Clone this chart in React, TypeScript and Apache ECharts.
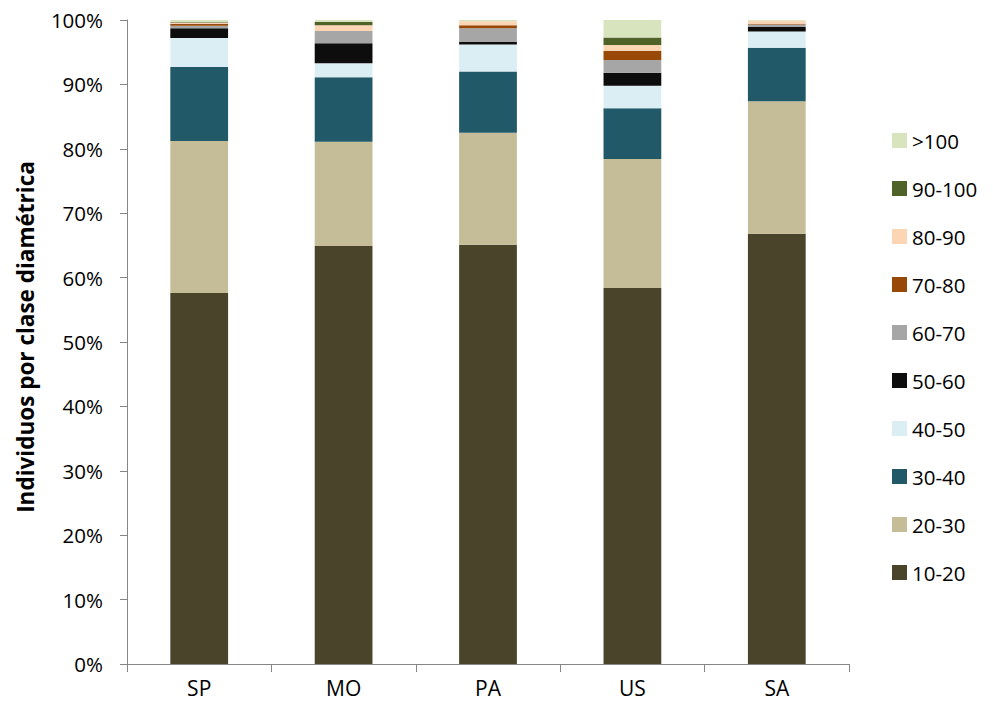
import React, { useEffect, useRef } from "react";
import * as echarts from "echarts";

const categories = ["SP", "MO", "PA", "US", "SA"];
const classes = ["10-20", "20-30", "30-40", "40-50", "50-60", "60-70", "70-80", "80-90", "90-100", ">100"];
const colors = ["#4a452a", "#c4bd97", "#215968", "#dbeef4", "#0d0d0d", "#a6a6a6", "#984807", "#fcd5b5", "#4f6228", "#d7e4bd"];
const yTitle = "Individuos por clase diamétrica";

// Share (%) of individuals in each diameter class, per site (SP, MO, PA, US, SA)
const c10_20 = [57.6, 64.9, 65.1, 58.4, 66.8];
const c20_30 = [23.6, 16.2, 17.4, 20.0, 20.6];
const c30_40 = [11.5, 10.0, 9.5, 7.9, 8.3];
const c40_50 = [4.5, 2.2, 4.2, 3.5, 2.5];
const c50_60 = [1.5, 3.1, 0.4, 2.0, 0.7];
const c60_70 = [0.4, 1.9, 2.1, 2.0, 0.4];
const c70_80 = [0.3, 0.0, 0.5, 1.4, 0.1];
const c80_90 = [0.2, 0.9, 0.6, 0.9, 0.5];
const c90_100 = [0.1, 0.5, 0.0, 1.2, 0.0];
const c100 = [0.3, 0.3, 0.2, 2.7, 0.1];

const seriesValues = [c10_20, c20_30, c30_40, c40_50, c50_60, c60_70, c70_80, c80_90, c90_100, c100];

const FONT = "'Open Sans', 'Noto Sans', sans-serif";

export default function App() {
  const ref = useRef<HTMLDivElement>(null);

  useEffect(() => {
    document.body.style.margin = "0";
    if (!ref.current) return;
    const chart = echarts.init(ref.current, null, { renderer: "svg" });
    chart.setOption({
      animation: false,
      backgroundColor: "#ffffff",
      grid: { left: 127, right: 144, top: 20, bottom: 43 },
      graphic: [
        {
          type: "text",
          x: 25,
          y: 337,
          rotation: Math.PI / 2,
          style: {
            text: yTitle,
            fontFamily: FONT,
            fontSize: 22.5,
            fontWeight: "bold",
            fill: "#000",
            align: "center",
            verticalAlign: "middle",
          },
        },
      ],
      legend: {
        orient: "vertical",
        left: 892,
        top: 130,
        padding: 0,
        itemWidth: 15,
        itemHeight: 15,
        itemGap: 27,
        icon: "rect",
        data: classes.slice().reverse(),
        textStyle: { fontFamily: FONT, fontSize: 20.5, lineHeight: 21, color: "#000" },
      },
      xAxis: {
        type: "category",
        data: categories,
        axisLine: { lineStyle: { color: "#868686", width: 1 } },
        axisTick: { show: true, length: 8, lineStyle: { color: "#868686" } },
        axisLabel: { fontFamily: FONT, fontSize: 21, color: "#000", margin: 13 },
      },
      yAxis: {
        type: "value",
        min: 0,
        max: 100,
        interval: 10,
        splitLine: { show: false },
        axisLine: { show: true, lineStyle: { color: "#868686", width: 1 } },
        axisTick: { show: true, length: 7, lineStyle: { color: "#868686" } },
        axisLabel: { fontFamily: FONT, fontSize: 20.5, color: "#000", margin: 24, formatter: "{value}%" },
      },
      series: classes.map((name, i) => ({
        name,
        type: "bar",
        stack: "total",
        barWidth: "40%",
        itemStyle: { color: colors[i] },
        data: seriesValues[i],
      })),
    });
    return () => chart.dispose();
  }, []);

  return <div ref={ref} style={{ width: 993, height: 707 }} />;
}
